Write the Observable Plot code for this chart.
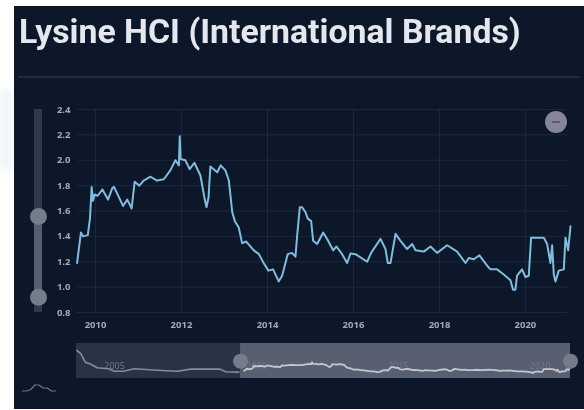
<!DOCTYPE html>
<html>
<head>
<meta charset="utf-8">
<script src="https://cdn.jsdelivr.net/npm/d3@7"></script>
<script src="https://cdn.jsdelivr.net/npm/@observablehq/plot@0.6"></script>
<style>
  html, body { margin: 0; padding: 0; background: #fff; width: 584px; height: 410px; overflow: hidden; }
  #wash { position: absolute; left: 0; top: 90px; width: 12px; height: 80px; background: #eef3f4; filter: blur(5px); }
  #panel { position: absolute; left: 14px; top: 6px; width: 570px; height: 403px; background: #0c172a; }
  #title { position: absolute; left: 19px; top: 12px; font: 700 33.8px Roboto, sans-serif; color: #e4e8ee; white-space: nowrap; filter: blur(.6px); }
  #rule { position: absolute; left: 18px; top: 76px; width: 562px; height: 2px; background: #1f2c40; filter: blur(.5px); }
  #zoomBtn { position: absolute; left: 545px; top: 111px; width: 22px; height: 22px; border-radius: 50%; background: #85859c; filter: blur(.5px); }
  #zoomBtn::after { content: ""; position: absolute; left: 7px; top: 10px; width: 8px; height: 1.5px; background: #5a5a70; }
  .layer { position: absolute; left: 0; top: 0; }
  .soft { filter: blur(.6px); }
</style>
</head>
<body>
<div id="wash"></div>
<div id="panel"></div>
<div id="title">Lysine HCI (International Brands)</div>
<div id="rule"></div>
<div id="main" class="layer soft"></div>
<div id="slider" class="layer soft"></div>
<div id="overview" class="layer soft"></div>
<div id="icon" class="layer soft"></div>
<div id="zoomBtn"></div>
<script>
const years = [2009.57,2009.66,2009.71,2009.82,2009.87,2009.91,2009.94,2009.98,2010.05,2010.16,2010.29,2010.39,2010.43,2010.64,2010.74,2010.84,2010.91,2011.02,2011.12,2011.28,2011.43,2011.59,2011.74,2011.86,2011.94,2011.96,2011.98,2012.09,2012.19,2012.30,2012.44,2012.53,2012.58,2012.63,2012.67,2012.83,2012.91,2013.02,2013.10,2013.18,2013.24,2013.33,2013.41,2013.50,2013.68,2013.80,2013.91,2014.02,2014.13,2014.26,2014.34,2014.47,2014.57,2014.65,2014.69,2014.752,2014.806,2014.884,2014.938,2015.016,2015.062,2015.155,2015.295,2015.388,2015.527,2015.605,2015.736,2015.853,2015.93,2016.047,2016.318,2016.411,2016.628,2016.744,2016.798,2016.86,2016.977,2017.093,2017.248,2017.364,2017.442,2017.636,2017.791,2017.946,2018.178,2018.411,2018.605,2018.682,2018.798,2018.93,2019.109,2019.186,2019.341,2019.496,2019.651,2019.713,2019.767,2019.806,2019.922,2020.0,2020.078,2020.132,2020.426,2020.504,2020.581,2020.62,2020.659,2020.698,2020.775,2020.891,2020.93,2020.992,2021.047];
const prices = [1.19,1.43,1.40,1.41,1.54,1.79,1.68,1.73,1.72,1.77,1.69,1.78,1.79,1.64,1.69,1.62,1.83,1.80,1.84,1.87,1.84,1.85,1.92,2.0,1.96,2.19,2.01,2.0,1.93,1.98,1.88,1.71,1.63,1.71,1.95,1.905,1.96,1.92,1.84,1.59,1.52,1.47,1.345,1.36,1.29,1.26,1.19,1.13,1.14,1.045,1.09,1.26,1.27,1.24,1.405,1.63,1.63,1.59,1.54,1.52,1.365,1.34,1.43,1.38,1.29,1.32,1.26,1.19,1.265,1.26,1.20,1.27,1.38,1.30,1.19,1.19,1.42,1.365,1.30,1.34,1.29,1.28,1.32,1.27,1.33,1.28,1.19,1.23,1.22,1.25,1.17,1.14,1.14,1.10,1.055,0.98,0.98,1.09,1.14,1.08,1.09,1.39,1.39,1.34,1.19,1.33,1.10,1.045,1.13,1.14,1.39,1.29,1.48];
const historyYears = [2003.67,2003.81,2003.97,2004.13,2004.39,2004.79,2004.99,2005.31,2005.70,2006.23,2006.69,2007.22,2007.68,2008.72,2008.91,2009.38];
const historyPrices = [3.51,3.14,2.18,2.0,1.55,1.43,1.16,1.16,1.43,1.32,1.24,1.16,1.39,1.39,1.09,1.05];
const yTicks = [0.8,1.0,1.2,1.4,1.6,1.8,2.0,2.2,2.4];
const xTickYears = [2010,2012,2014,2016,2018,2020];
const overviewLabels = [2005,2010,2015,2020];
const windowStart = 2009.44, windowEnd = 2021.07, overviewStart = 2003.66;
const yHandles = [0.92, 1.557];
const iconX = [0,1,2,3,4,5,6,7,8], iconY = [1,1,2,5,5,3,3,1,1];

const toDate = y => { const f = Math.floor(y); const a = Date.UTC(f,0,1), b = Date.UTC(f+1,0,1); return new Date(a + (y-f)*(b-a)); };
const series = years.map((y,i) => ({date: toDate(y), value: prices[i]}));
const history = historyYears.map((y,i) => ({date: toDate(y), value: historyPrices[i]}));
const tickFont = {fontFamily: "'Open Sans', sans-serif", fontWeight: 700, fontSize: 9.5, fill: "#a3aab4"};
const clear = {background: "transparent", overflow: "visible"};

document.getElementById("main").append(Plot.plot({
  width: 584, height: 410, marginTop: 109, marginBottom: 98, marginLeft: 77, marginRight: 17,
  style: clear,
  x: {type: "utc", domain: [toDate(2009.58), toDate(2021.07)], range: [77, 571], label: null},
  y: {domain: [0.8, 2.4], range: [312, 109], label: null},
  marks: [
    Plot.gridX(xTickYears.map(toDate), {stroke: "#2a3a52", strokeOpacity: 0.5, strokeWidth: 1, y1: 0.8, y2: 2.4}),
    Plot.gridY(yTicks, {stroke: "#2a3a52", strokeOpacity: 0.5, strokeWidth: 1}),
    Plot.axisX(xTickYears.map(toDate), {tickSize: 0, tickPadding: 9, tickFormat: d3.utcFormat("%Y"), label: null, ...tickFont}),
    Plot.axisY(yTicks, {tickSize: 0, tickPadding: 7, tickFormat: d => d.toFixed(1), label: null, ...tickFont}),
    Plot.line(series, {x: "date", y: "value", stroke: "#82bbdc", strokeWidth: 2, curve: "linear"})
  ]
}));

document.getElementById("slider").append(Plot.plot({
  width: 584, height: 410, marginTop: 109, marginBottom: 98, marginLeft: 0, marginRight: 0,
  style: clear,
  x: {domain: [0, 1], range: [34, 42], axis: null},
  y: {domain: [0.8, 2.4], range: [312, 109], axis: null},
  marks: [
    Plot.rect([{a: 0.8, b: 2.4}], {x1: 0, x2: 1, y1: "a", y2: "b", fill: "#303949"}),
    Plot.rect([{a: yHandles[0], b: yHandles[1]}], {x1: 0, x2: 1, y1: "a", y2: "b", fill: "#565e6e"}),
    Plot.dot(yHandles, {x: 0.5, y: d => d, r: 8.5, fill: "#757c8b"})
  ]
}));

document.getElementById("overview").append(Plot.plot({
  width: 584, height: 410, marginTop: 343, marginBottom: 32, marginLeft: 76, marginRight: 14,
  style: clear,
  x: {type: "utc", domain: [toDate(overviewStart), toDate(windowEnd)], range: [76, 570], axis: null},
  y: {domain: [0.33, 4.3], range: [378, 343], axis: null},
  marks: [
    Plot.rect([0], {x1: toDate(overviewStart), x2: toDate(windowStart), y1: 0.33, y2: 4.3, fill: "#283444"}),
    Plot.rect([0], {x1: toDate(windowStart), x2: toDate(windowEnd), y1: 0.33, y2: 4.3, fill: "#575f70"}),
    Plot.text(overviewLabels, {x: d => toDate(d), y: 1.75, text: d => String(d), fill: "#737b88", fontSize: 9, fontFamily: "'Open Sans', sans-serif"}),
    Plot.line(history, {x: "date", y: "value", stroke: "#858d99", strokeWidth: 1.6}),
    Plot.line(series, {x: "date", y: "value", stroke: "#c3c8cf", strokeWidth: 1.8}),
    Plot.dot([windowStart, windowEnd], {x: d => toDate(d), y: 2.3, r: 7.5, fill: "#747c8b"})
  ]
}));

document.getElementById("icon").append(Plot.plot({
  width: 584, height: 410, marginTop: 383, marginBottom: 18, marginLeft: 22, marginRight: 529,
  style: clear,
  x: {domain: [0, 8], axis: null},
  y: {domain: [0, 6], axis: null},
  marks: [Plot.line(iconX.map((x,i) => ({x, y: iconY[i]})), {x: "x", y: "y", stroke: "#6f7785", strokeWidth: 1.2})]
}));
</script>
</body>
</html>
